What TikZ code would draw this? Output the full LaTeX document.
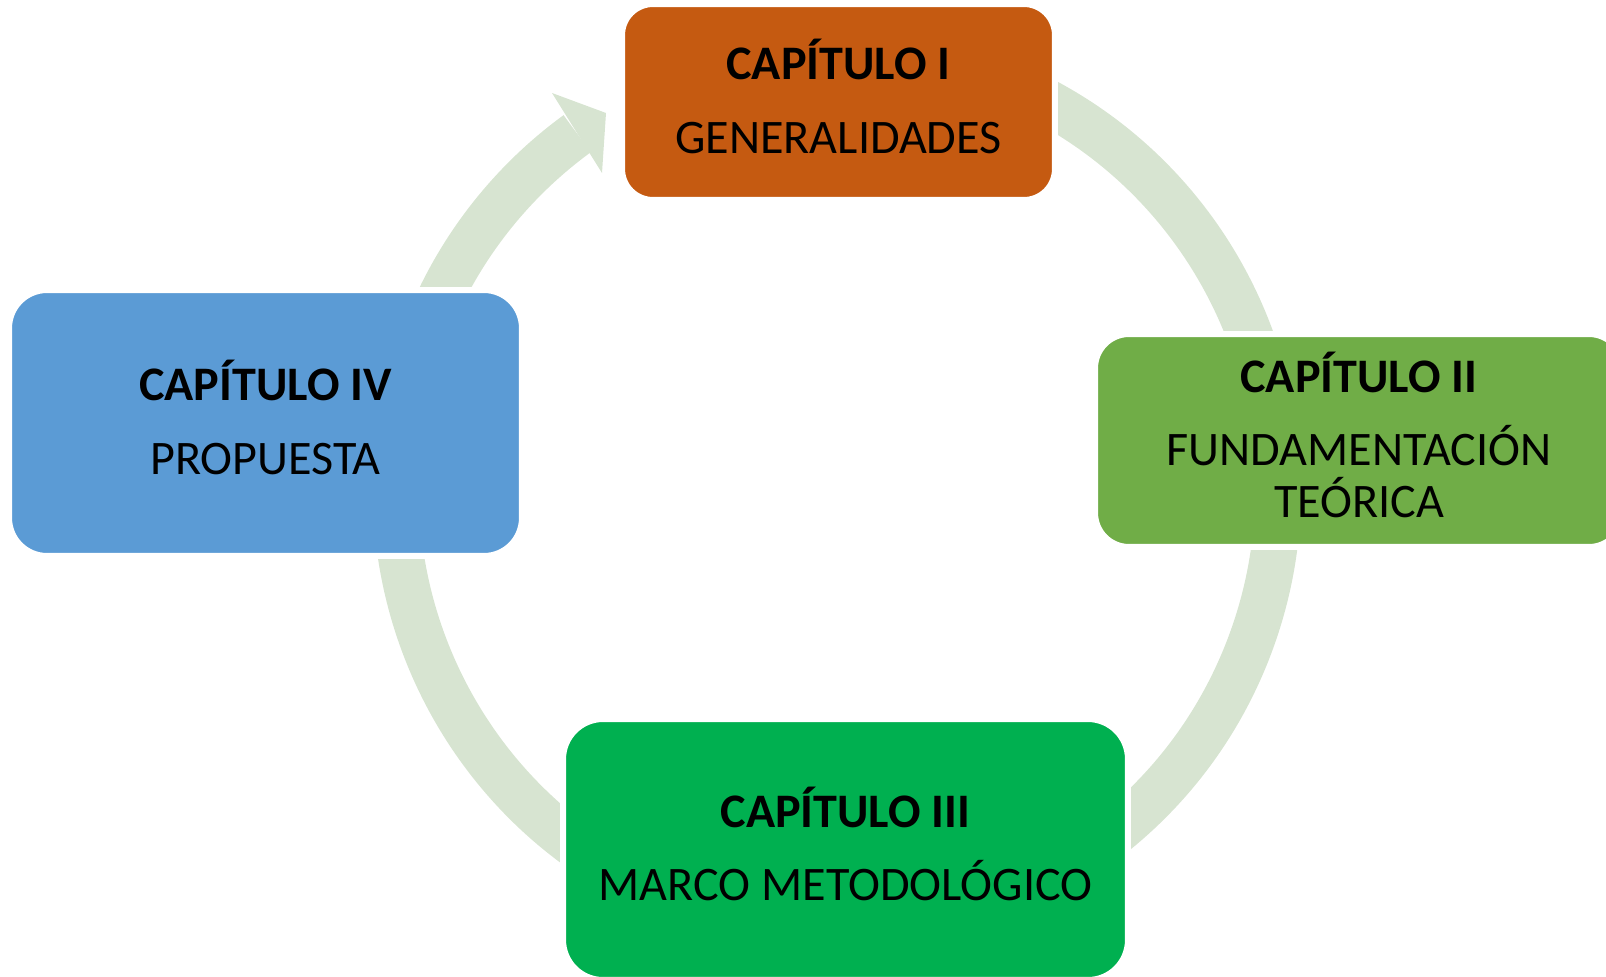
\documentclass[tikz,border=0pt]{standalone}
\usepackage{fontspec}
\setmainfont{Carlito}
\usetikzlibrary{backgrounds}

% lifts the two lines a little inside their box
\newcommand{\chaplift}{\rule[-6.5pt]{0pt}{6.5pt}}

\begin{document}
\begin{tikzpicture}[x=0.02cm, y=-0.02cm]

\definecolor{capone}{HTML}{C55A11}
\definecolor{captwo}{HTML}{70AD47}
\definecolor{capthree}{HTML}{00B050}
\definecolor{capfour}{HTML}{5B9BD5}
\definecolor{ringgreen}{HTML}{D7E4D1}

% Page size
\useasboundingbox (0,0) rectangle (1606,977);

\tikzset{
    chapter block/.style={
        fill=#1, draw=white, line width=0.12cm,
        rectangle, inner sep=0pt, text=black, align=center,
        font=\fontsize{27.4}{29.6}\selectfont
    },
    ring/.style={
        draw=ringgreen, line width=0.92cm
    }
}

% CHAPTERS
\node[chapter block=capone, minimum width=8.66cm, minimum height=3.92cm, rounded corners=0.62cm]
    (C1) at (838.5, 102) {\textbf{CAPÍTULO I}\\[12.5pt]GENERALIDADES\chaplift};
\node[chapter block=captwo, minimum width=10.56cm, minimum height=4.26cm, rounded corners=0.68cm]
    (C2) at (1359, 440.5) {\textbf{CAPÍTULO II}\\[12.5pt]FUNDAMENTACIÓN\\TEÓRICA\chaplift};
\node[chapter block=capthree, minimum width=11.3cm, minimum height=5.22cm, rounded corners=0.8cm]
    (C3) at (845.5, 849.5) {\textbf{CAPÍTULO III}\\[12.5pt]MARCO METODOLÓGICO\chaplift};
\node[chapter block=capfour, minimum width=10.26cm, minimum height=5.32cm, rounded corners=0.76cm]
    (C4) at (265.5, 423) {\textbf{CAPÍTULO IV}\\[12.5pt]PROPUESTA\chaplift};

% --- CYCLE ARROW (behind the chapters) ---
\coordinate (hub) at (837, 490);
\begin{scope}[on background layer]
    \draw[ring] (hub) ++(-70:441) arc[start angle=-70, end angle=233.9, radius=441];
    \fill[ringgreen] (552, 93) -- (606, 113) -- (602, 173) -- cycle;
\end{scope}

\end{tikzpicture}
\end{document}
